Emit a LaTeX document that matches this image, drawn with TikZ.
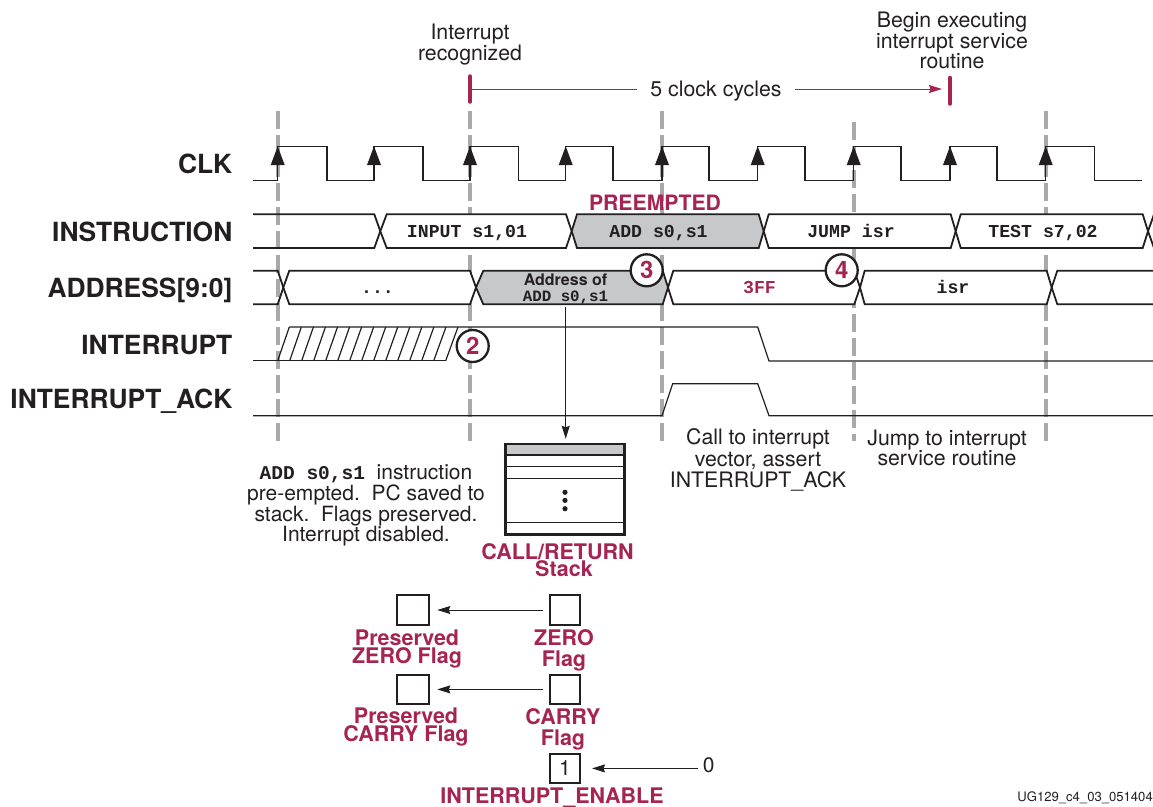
\documentclass[tikz,border=0pt]{standalone}
\usepackage{fontspec}
\setmainfont{TeX Gyre Heros}
\setmonofont{Liberation Mono}
\usetikzlibrary{arrows.meta}
\definecolor{inkblack}{RGB}{35,31,32}
\definecolor{flagred}{RGB}{166,36,82}
\definecolor{markgray}{RGB}{167,169,172}
\definecolor{busgray}{RGB}{199,200,202}
\tikzset{
  sigtext/.style={anchor=base east,inner sep=0pt,font=\fontsize{26.4}{28}\selectfont\bfseries},
  notetext/.style={inner sep=0pt,align=center,font=\fontsize{21.3}{20.5}\selectfont},
  redtext/.style={inner sep=0pt,align=center,text=flagred,font=\fontsize{21.5}{18}\selectfont\bfseries},
  bustext/.style={anchor=base,inner sep=0pt,font=\fontsize{18.2}{20}\selectfont\ttfamily\bfseries},
  stepmark/.style={circle,draw=inkblack,fill=white,line width=2.3pt,minimum size=32pt,inner sep=0pt,text=flagred,font=\fontsize{24}{24}\selectfont\bfseries},
  flagbox/.style={draw,line width=2pt,minimum width=30pt,minimum height=29.5pt,inner sep=0pt},
  thinarrow/.style={line width=1pt,-{Stealth[length=13pt,width=8pt,inset=1.5pt]}},
  sepline/.style={draw=markgray,line width=4pt,dash pattern=on 18pt off 6pt}
}
\begin{document}
\begin{tikzpicture}[x=1pt,y=-1pt,color=inkblack]
  \useasboundingbox (0,0) rectangle (1153,806);

  % Clock edge markers
  \draw[sepline] (277.7,111.3) -- (277.7,441);
  \draw[sepline] (470,111.3) -- (470,441);
  \draw[sepline] (662,111.3) -- (662,441);
  \draw[sepline] (853.7,122.3) -- (853.7,441);
  \draw[sepline] (1045.7,111.3) -- (1045.7,441);

  % Signal names
  \node[sigtext] (clk) at (232.5,173) {CLK};
  \node[sigtext] (instr) at (232.5,241) {INSTRUCTION};
  \node[sigtext] (addr) at (232.5,297) {ADDRESS[9:0]};
  \node[sigtext] (irq) at (232.5,354) {INTERRUPT};
  \node[sigtext] (ack) at (232.5,408) {INTERRUPT\_ACK};

  % Clock
  \draw[line width=1.4pt] (253,180.3) -- (277.7,180.3) -- (277.7,146.3) -- (327,146.3) -- (327,180.3)
    -- (374,180.3) -- (374,146.3) -- (423,146.3) -- (423,180.3)
    -- (470,180.3) -- (470,146.3) -- (518.7,146.3) -- (518.7,180.3)
    -- (565.7,180.3) -- (565.7,146.3) -- (613,146.3) -- (613,180.3)
    -- (662,180.3) -- (662,146.3) -- (709,146.3) -- (709,180.3)
    -- (757.7,180.3) -- (757.7,146.3) -- (805,146.3) -- (805,180.3)
    -- (853.7,180.3) -- (853.7,146.3) -- (901,146.3) -- (901,180.3)
    -- (950,180.3) -- (950,146.3) -- (997,146.3) -- (997,180.3)
    -- (1045.7,180.3) -- (1045.7,146.3) -- (1094.7,146.3) -- (1094.7,180.3) -- (1142,180.3);
  \foreach \x in {277.7,374,470,565.7,662,757.7,853.7,950,1045.7}
    \fill (\x-7,165) -- (\x,146.3) -- (\x+7,165) -- cycle;

  % Instruction bus
  \draw[line width=1.8pt] (253,214.3) -- (374.3,214.3) -- (380.3,231.2) -- (374.3,248) -- (253,248);
  \foreach \a/\b/\c/\d/\col in {
    380.3/386.7/566/571.7/white,
    571.7/577/758.7/763.7/busgray,
    763.7/768.7/950.7/955.7/white,
    955.7/960.7/1142.7/1148/white}
    \draw[line width=1.8pt,fill=\col] (\a,231.2) -- (\b,214.3) -- (\c,214.3) -- (\d,231.2) -- (\c,248) -- (\b,248) -- cycle;
  \draw[line width=1.8pt] (1154,214.3) -- (1148,231.2) -- (1154,248);

  % Address bus
  \draw[line width=1.8pt] (253,270.7) -- (277.7,270.7) -- (283.3,287.5) -- (277.7,304.3) -- (253,304.3);
  \foreach \a/\b/\c/\d/\col in {
    283.3/289.3/470/476/white,
    476/483.3/662.7/668/busgray,
    668/673.3/854.3/860/white,
    860/864.7/1046.7/1051.7/white}
    \draw[line width=1.8pt,fill=\col] (\a,287.5) -- (\b,270.7) -- (\c,270.7) -- (\d,287.5) -- (\c,304.3) -- (\b,304.3) -- cycle;
  \draw[line width=1.8pt] (1154,270.7) -- (1057.3,270.7) -- (1051.7,287.5) -- (1057.3,304.3) -- (1154,304.3);

  % Interrupt
  \draw[line width=1.2pt] (253,360.7) -- (445.7,360.7);
  \foreach \i in {0,...,14}
    \draw[line width=1.2pt] (277.7+12*\i,360.7) -- (289.3+12.05*\i,327);
  \draw[line width=1.2pt] (289.3,327) -- (757.7,327) -- (769,361) -- (1153,361);

  % Interrupt acknowledge
  \draw[line width=1.2pt] (253,415.7) -- (662,415.7) -- (672.7,383.7) -- (757.7,383.7) -- (769,415.7) -- (1153,415.7);

  % Bus contents
  \node[inner sep=0pt,text=flagred,font=\fontsize{21.2}{22}\selectfont\bfseries] (preempt) at (655,203) {PREEMPTED};
  \node[bustext] (t1) at (467,237.3) {INPUT s1,01};
  \node[bustext] (t2) at (658.5,237.3) {ADD s0,s1};
  \node[bustext] (t3) at (851,237.3) {JUMP isr};
  \node[bustext] (t4) at (1043,237.3) {TEST s7,02};
  \node[bustext] (a1) at (377.5,293) {...};
  \node[inner sep=0pt,align=center,font=\fontsize{16}{16.5}\selectfont\bfseries] (a2) at (565.5,289) {Address of\\{\fontsize{15.8}{16.5}\selectfont\ttfamily ADD s0,s1}};
  \node[bustext,text=flagred] (a3) at (759.5,293.7) {3FF};
  \node[bustext] (a4) at (953,293.7) {isr};

  % Numbered marks
  \node[stepmark] (mark2) at (472.7,346) {2};
  \node[stepmark] (mark3) at (646.7,270.3) {3};
  \node[stepmark] (mark4) at (841.7,270.3) {4};

  % Top notes and cycle count
  \node[notetext] (recog) at (470,44.5) {Interrupt\\recognized};
  \node[notetext] (begin) at (952,40.5) {Begin executing\\interrupt service\\routine};
  \node[notetext,inner xsep=13.5pt] (cycles) at (716,91) {5 clock cycles};
  \coordinate (barleft) at (470,89);
  \coordinate (barright) at (950,89);
  \draw[flagred,line width=3.5pt,line cap=round] (470,76) -- (470,102);
  \draw[flagred,line width=3.5pt,line cap=round] (950,77.5) -- (950,104);
  \draw[flagred,line width=1pt] (barleft) -- (barleft -| cycles.west);
  \draw[flagred,thinarrow,shorten >=8pt] (barright -| cycles.east) -- (barright);

  % Lower notes
  \node[notetext,font=\fontsize{21.3}{21.8}\selectfont] (callnote) at (758,460) {Call to interrupt\\vector, assert\\INTERRUPT\_ACK};
  \node[notetext] (jumpnote) at (947,448) {Jump to interrupt\\service routine};
  \node[notetext,font=\fontsize{21}{20.8}\selectfont] (addnote) at (366,505.5) {{\fontsize{19.5}{20.8}\selectfont\ttfamily\bfseries ADD s0,s1}\ \ instruction\\pre-empted.\ \ PC saved to\\stack.\ \ Flags preserved.\\Interrupt disabled.};

  % Stack
  \fill[busgray] (505.7,444) rectangle (624.3,455);
  \draw[line width=1.2pt] (505.7,455) -- (624.3,455);
  \draw[line width=1.2pt] (505.7,466.7) -- (624.3,466.7);
  \draw[line width=1.2pt] (505.7,478.3) -- (624.3,478.3);
  \draw[line width=1.2pt] (505.7,522.7) -- (624.3,522.7);
  \foreach \y in {492.3,500.4,508.7}
    \fill (565,\y) circle (2.6);
  \node[draw,line width=2.5pt,minimum width=118.6pt,minimum height=90.3pt,inner sep=0pt] (stack) at (565,489.2) {};
  \coordinate (addrout) at (565.7,306.5);
  \draw[thinarrow,shorten >=4pt] (addrout) -- (addrout |- stack.north);
  \node[redtext,font=\fontsize{21.5}{17}\selectfont\bfseries] (stacklabel) at (557.5,560.5) {CALL/RETURN\\\hspace*{13pt}Stack};

  % Flags
  \node[flagbox,minimum width=32pt] (savezero) at (413.3,610) {};
  \node[flagbox] (zero) at (565,610) {};
  \node[flagbox,minimum width=32pt] (savecarry) at (413.3,689.4) {};
  \node[flagbox] (carry) at (565,689.4) {};
  \node[flagbox] (enable) at (565,768.4) {\fontsize{21}{21}\selectfont 1};
  \node[inner sep=0pt,font=\fontsize{21}{21}\selectfont] (zeroval) at (708.7,765) {0};
  \draw[thinarrow,shorten <=6pt,shorten >=7pt] (zero.west) -- (savezero.east);
  \draw[thinarrow,shorten <=6pt,shorten >=7pt] (carry.west) -- (savecarry.east);
  \draw[thinarrow,shorten <=5pt,shorten >=11pt] (zeroval.west |- enable.east) -- (enable.east);
  \node[redtext] (savezerotext) at (407,649) {Preserved\\ZERO Flag};
  \node[redtext,font=\fontsize{21.5}{21}\selectfont\bfseries] (zerotext) at (564,650.5) {ZERO\\Flag};
  \node[redtext] (savecarrytext) at (406,727) {Preserved\\CARRY Flag};
  \node[redtext,font=\fontsize{21.5}{21}\selectfont\bfseries] (carrytext) at (563,729) {CARRY\\Flag};
  \node[redtext] (enabletext) at (552,798) {INTERRUPT\_ENABLE};

  % Figure number
  \node[inner sep=0pt,anchor=east,font=\fontsize{13.1}{14}\selectfont] (figid) at (1153,798) {UG129\_c4\_03\_051404};
\end{tikzpicture}
\end{document}
